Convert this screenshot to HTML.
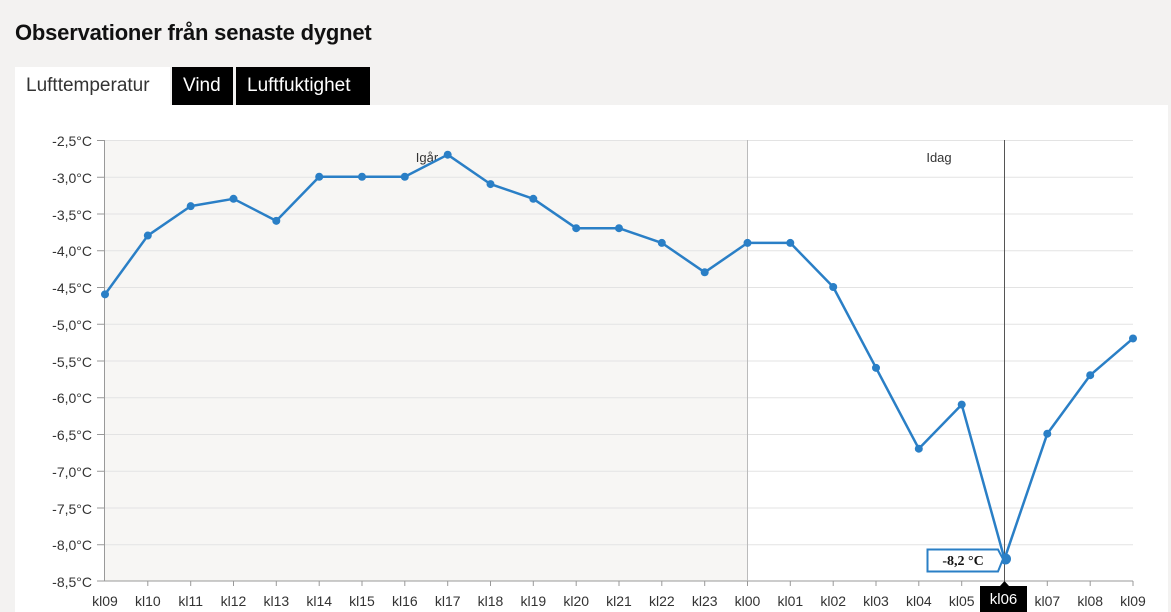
<!DOCTYPE html>
<html><head><meta charset="utf-8"><style>
body{margin:0;width:1171px;height:612px;background:#f3f2f1;overflow:hidden;font-family:"Liberation Sans",sans-serif}
h1{position:absolute;left:15px;top:20px;margin:0;font-size:22px;font-weight:bold;color:#111;letter-spacing:-0.2px}
.tab{position:absolute;top:67px;height:38px;line-height:38px;font-size:19px;padding:0 11px;box-sizing:border-box}
.panel{position:absolute;left:15px;top:105px;width:1153px;height:507px;background:#fff}
</style></head><body>
<h1>Observationer från senaste dygnet</h1>
<div class="tab" style="left:15px;width:155px;background:#fff;color:#333">Lufttemperatur</div>
<div class="tab" style="left:172px;width:61px;background:#000;color:#fff">Vind</div>
<div class="tab" style="left:236px;width:134px;background:#000;color:#fff">Luftfuktighet</div>
<div class="panel"></div>
<svg width="1171" height="612" style="position:absolute;left:0;top:0" font-family="Liberation Sans,sans-serif">
<rect x="105" y="140" width="642.5" height="441" fill="#f7f6f4"/>
<g stroke="#e3e3e3" stroke-width="1">
<line x1="105" x2="1133" y1="140.5" y2="140.5"/><line x1="105" x2="1133" y1="177.25" y2="177.25"/>
<line x1="105" x2="1133" y1="214" y2="214"/><line x1="105" x2="1133" y1="250.75" y2="250.75"/>
<line x1="105" x2="1133" y1="287.5" y2="287.5"/><line x1="105" x2="1133" y1="324.25" y2="324.25"/>
<line x1="105" x2="1133" y1="361" y2="361"/><line x1="105" x2="1133" y1="397.75" y2="397.75"/>
<line x1="105" x2="1133" y1="434.5" y2="434.5"/><line x1="105" x2="1133" y1="471.25" y2="471.25"/>
<line x1="105" x2="1133" y1="508" y2="508"/><line x1="105" x2="1133" y1="544.75" y2="544.75"/>
</g>
<line x1="104.5" x2="104.5" y1="140" y2="581" stroke="#999"/>
<line x1="105" x2="1133" y1="581" y2="581" stroke="#999"/>
<line x1="747.5" x2="747.5" y1="140" y2="581" stroke="#bbb"/>
<line x1="1004.5" x2="1004.5" y1="140" y2="581" stroke="#555"/>
<g stroke="#999">
<line x1="97" x2="105" y1="140.5" y2="140.5"/><line x1="97" x2="105" y1="177.25" y2="177.25"/><line x1="97" x2="105" y1="214" y2="214"/><line x1="97" x2="105" y1="250.75" y2="250.75"/><line x1="97" x2="105" y1="287.5" y2="287.5"/><line x1="97" x2="105" y1="324.25" y2="324.25"/><line x1="97" x2="105" y1="361" y2="361"/><line x1="97" x2="105" y1="397.75" y2="397.75"/><line x1="97" x2="105" y1="434.5" y2="434.5"/><line x1="97" x2="105" y1="471.25" y2="471.25"/><line x1="97" x2="105" y1="508" y2="508"/><line x1="97" x2="105" y1="544.75" y2="544.75"/><line x1="97" x2="105" y1="581" y2="581"/>
</g>
<g font-size="14" fill="#333" text-anchor="end">
<text x="92" y="146">-2,5°C</text><text x="92" y="183">-3,0°C</text><text x="92" y="220">-3,5°C</text><text x="92" y="256">-4,0°C</text><text x="92" y="293">-4,5°C</text><text x="92" y="330">-5,0°C</text><text x="92" y="367">-5,5°C</text><text x="92" y="403">-6,0°C</text><text x="92" y="440">-6,5°C</text><text x="92" y="477">-7,0°C</text><text x="92" y="514">-7,5°C</text><text x="92" y="550">-8,0°C</text><text x="92" y="587">-8,5°C</text>
</g>
<g font-size="13" fill="#333" text-anchor="middle">
<text x="427" y="162">Igår</text><text x="939" y="162">Idag</text>
</g>
<polyline fill="none" stroke="#2a7fc6" stroke-width="2.5" stroke-linejoin="round" points="105,294.35 147.8,235.55 190.7,206.15 233.5,198.8 276.3,220.85 319.2,176.75 362,176.75 404.8,176.75 447.7,154.7 490.5,184.1 533.3,198.8 576.2,228.2 619,228.2 661.8,242.9 704.7,272.3 747.5,242.9 790.3,242.9 833.2,287 876,367.85 918.8,448.7 961.7,404.6 1004.5,558.95 1047.3,433.7 1090.2,375.2 1133,338.45"/>
<g fill="#2a7fc6">
<circle cx="105" cy="294.35" r="4"/><circle cx="147.8" cy="235.55" r="4"/><circle cx="190.7" cy="206.15" r="4"/><circle cx="233.5" cy="198.8" r="4"/><circle cx="276.3" cy="220.85" r="4"/><circle cx="319.2" cy="176.75" r="4"/><circle cx="362" cy="176.75" r="4"/><circle cx="404.8" cy="176.75" r="4"/><circle cx="447.7" cy="154.7" r="4"/><circle cx="490.5" cy="184.1" r="4"/><circle cx="533.3" cy="198.8" r="4"/><circle cx="576.2" cy="228.2" r="4"/><circle cx="619" cy="228.2" r="4"/><circle cx="661.8" cy="242.9" r="4"/><circle cx="704.7" cy="272.3" r="4"/><circle cx="747.5" cy="242.9" r="4"/><circle cx="790.3" cy="242.9" r="4"/><circle cx="833.2" cy="287" r="4"/><circle cx="876" cy="367.85" r="4"/><circle cx="918.8" cy="448.7" r="4"/><circle cx="961.7" cy="404.6" r="4"/><circle cx="1005.5" cy="558.95" r="5.5"/><circle cx="1047.3" cy="433.7" r="4"/><circle cx="1090.2" cy="375.2" r="4"/><circle cx="1133" cy="338.45" r="4"/>
</g>
<path d="M927.5,549.5 H998 L1003,559 L998,571.5 H927.5 Z" fill="#fff" stroke="#2a7fc6" stroke-width="2"/>
<text x="963" y="565" font-family="Liberation Serif,serif" font-weight="bold" font-size="14" fill="#111" text-anchor="middle">-8,2 °C</text>
<g stroke="#999">
<line x1="147.8" x2="147.8" y1="581" y2="586"/><line x1="190.7" x2="190.7" y1="581" y2="586"/><line x1="233.5" x2="233.5" y1="581" y2="586"/><line x1="276.3" x2="276.3" y1="581" y2="586"/><line x1="319.2" x2="319.2" y1="581" y2="586"/><line x1="362" x2="362" y1="581" y2="586"/><line x1="404.8" x2="404.8" y1="581" y2="586"/><line x1="447.7" x2="447.7" y1="581" y2="586"/><line x1="490.5" x2="490.5" y1="581" y2="586"/><line x1="533.3" x2="533.3" y1="581" y2="586"/><line x1="576.2" x2="576.2" y1="581" y2="586"/><line x1="619" x2="619" y1="581" y2="586"/><line x1="661.8" x2="661.8" y1="581" y2="586"/><line x1="704.7" x2="704.7" y1="581" y2="586"/><line x1="747.5" x2="747.5" y1="581" y2="586"/><line x1="790.3" x2="790.3" y1="581" y2="586"/><line x1="833.2" x2="833.2" y1="581" y2="586"/><line x1="876" x2="876" y1="581" y2="586"/><line x1="918.8" x2="918.8" y1="581" y2="586"/><line x1="961.7" x2="961.7" y1="581" y2="586"/><line x1="1047.3" x2="1047.3" y1="581" y2="586"/><line x1="1090.2" x2="1090.2" y1="581" y2="586"/><line x1="1133" x2="1133" y1="581" y2="586"/>
</g>
<rect x="980" y="586" width="47" height="26" fill="#000"/>
<path d="M1000,586 L1004.5,581 L1009,586 Z" fill="#000"/>
<g font-size="14" fill="#333" text-anchor="middle">
<text x="105" y="606">kl09</text><text x="147.8" y="606">kl10</text><text x="190.7" y="606">kl11</text><text x="233.5" y="606">kl12</text><text x="276.3" y="606">kl13</text><text x="319.2" y="606">kl14</text><text x="362" y="606">kl15</text><text x="404.8" y="606">kl16</text><text x="447.7" y="606">kl17</text><text x="490.5" y="606">kl18</text><text x="533.3" y="606">kl19</text><text x="576.2" y="606">kl20</text><text x="619" y="606">kl21</text><text x="661.8" y="606">kl22</text><text x="704.7" y="606">kl23</text><text x="747.5" y="606">kl00</text><text x="790.3" y="606">kl01</text><text x="833.2" y="606">kl02</text><text x="876" y="606">kl03</text><text x="918.8" y="606">kl04</text><text x="961.7" y="606">kl05</text><text x="1003.5" y="604" fill="#fff" font-size="15">kl06</text><text x="1047.3" y="606">kl07</text><text x="1090.2" y="606">kl08</text><text x="1133" y="606">kl09</text>
</g>
</svg>
</body></html>
